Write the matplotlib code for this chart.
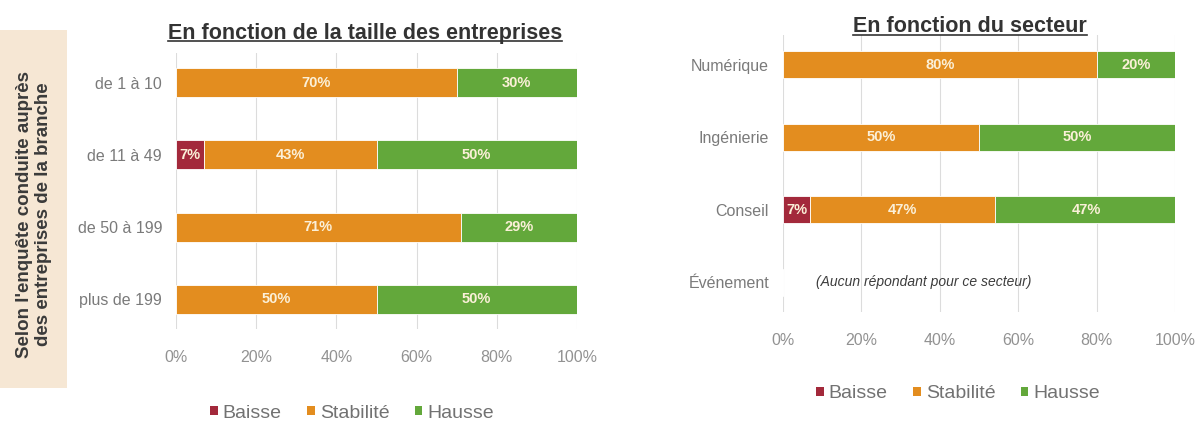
import matplotlib
matplotlib.use("Agg")
import matplotlib.pyplot as plt
from matplotlib.patches import Patch, Rectangle
from matplotlib.lines import Line2D

plt.rcParams['font.family'] = ['Liberation Sans', 'DejaVu Sans']

# Répartition par taille d'entreprise
tailles = ['de 1 à 10', 'de 11 à 49', 'de 50 à 199', 'plus de 199']
baisse_taille = [0, 7, 0, 0]
stabilite_taille = [70, 43, 71, 50]
hausse_taille = [30, 50, 29, 50]

# Répartition par secteur
secteurs = ['Numérique', 'Ingénierie', 'Conseil', 'Événement']
baisse_secteur = [0, 0, 7, 0]
stabilite_secteur = [80, 50, 47, 0]
hausse_secteur = [20, 50, 47, 0]

series = ['Baisse', 'Stabilité', 'Hausse']
couleurs = ['#A3293B', '#E38D1F', '#63A83B']
ticks_pct = [0, 20, 40, 60, 80, 100]


def barres_empilees(ax, labels, valeurs, hauteur):
    y = list(range(len(labels)))
    gauche = [0] * len(labels)
    for vals, col in zip(valeurs, couleurs):
        ax.barh(y, vals, left=gauche, height=hauteur, color=col,
                edgecolor='white', linewidth=0.6, zorder=2)
        for i, v in enumerate(vals):
            if v > 0:
                ax.text(gauche[i] + v / 2, i, f'{v}%', ha='center', va='center',
                        fontsize=10.5, fontweight='bold', color='#FBF0D8', zorder=3)
        gauche = [g + v for g, v in zip(gauche, vals)]

    ax.set_xlim(0, 100)
    ax.set_ylim(len(labels) - 1 + 0.41, -0.41)
    ax.set_yticks(y)
    ax.set_yticklabels(labels)
    ax.set_xticks(ticks_pct)
    ax.set_xticklabels([f'{t}%' for t in ticks_pct])
    ax.tick_params(axis='x', length=0, pad=15, labelsize=11.5, labelcolor='#929292')
    ax.tick_params(axis='y', length=0, pad=10, labelsize=11.5, labelcolor='#7A7A7A')
    ax.grid(axis='x', color='#DCDCDC', linewidth=0.8, zorder=0)
    for s in ax.spines.values():
        s.set_visible(False)


fig = plt.figure(figsize=(11.95, 4.21), dpi=100)

# bandeau beige à gauche
fig.patches.append(Rectangle((0, 1 - 388 / 421), 67 / 1195, (388 - 30) / 421,
                             transform=fig.transFigure, facecolor='#F6E7D4',
                             edgecolor='none', zorder=0))
fig.text(34 / 1195, 1 - 214 / 421,
         "Selon l'enquête conduite auprès\ndes entreprises de la branche",
         rotation=90, ha='center', va='center', fontsize=13.5, fontweight='bold',
         color='#3A3A3A', linespacing=1.1)

ax1 = fig.add_axes([176 / 1195, 1 - 329 / 421, 401 / 1195, 276 / 421])
barres_empilees(ax1, tailles, [baisse_taille, stabilite_taille, hausse_taille], 0.4)

ax2 = fig.add_axes([783 / 1195, 1 - 312 / 421, 392 / 1195, 277 / 421])
barres_empilees(ax2, secteurs, [baisse_secteur, stabilite_secteur, hausse_secteur], 0.37)
ax2.text(36, 3, '(Aucun répondant pour ce secteur)', ha='center', va='center',
         fontsize=10, style='italic', color='#3C3C3C')

titres = [
    fig.text(365 / 1195, 1 - 33 / 421, 'En fonction de la taille des entreprises',
             ha='center', va='center', fontsize=15.5, fontweight='bold', color='#333333'),
    fig.text(970 / 1195, 1 - 27 / 421, 'En fonction du secteur',
             ha='center', va='center', fontsize=15.5, fontweight='bold', color='#333333'),
]

poignees = [Patch(facecolor=c, label=s) for c, s in zip(couleurs, series)]
for x, y in [(352, 413), (958, 394)]:
    leg = fig.legend(handles=poignees, loc='center', bbox_to_anchor=(x / 1195, 1 - y / 421),
                     ncol=3, frameon=False, fontsize=14, handlelength=0.4,
                     handleheight=0.4, handletextpad=0.25, columnspacing=1.3)
    for t in leg.get_texts():
        t.set_color('#727272')

# soulignement des titres
fig.canvas.draw()
renderer = fig.canvas.get_renderer()
for t in titres:
    bb = t.get_window_extent(renderer).transformed(fig.transFigure.inverted())
    fig.add_artist(Line2D([bb.x0, bb.x1], [bb.y0 + 0.006, bb.y0 + 0.006],
                          transform=fig.transFigure, color='#333333', linewidth=1.2))

fig.savefig('out.png', dpi=100)
